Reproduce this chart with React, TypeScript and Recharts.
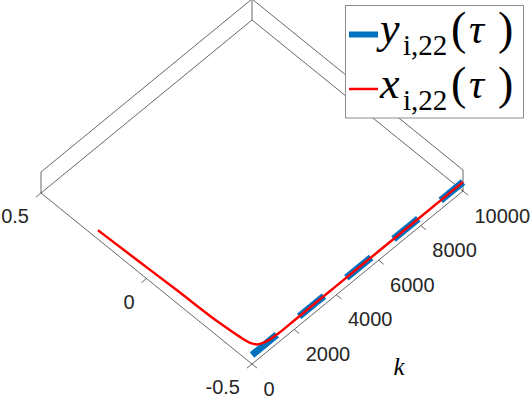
import { ComposedChart, Legend, Line, ReferenceDot, ReferenceLine, XAxis, YAxis } from "recharts";

// axis limits of the original 3-D box
const K_LIM = [0, 10000];
const V_LIM = [-0.5, 0.5];
const Z_LIM = [-1, 1];

const K_TICKS = [0, 2000, 4000, 6000, 8000, 10000];
const V_TICKS = [-0.5, 0, 0.5];
const V_TICK_LABELS = ["-0.5", "0", "0.5"];

// y_{i,22}(tau): reference, flat
const yK = [0, 2000, 4000, 6000, 8000, 10000];
const yVal = [-0.5, -0.5, -0.5, -0.5, -0.5, -0.5];

// x_{i,22}(tau): converges onto the reference
const xK = [0, 60, 115, 170, 205, 245, 310, 420, 570, 880, 1290, 2000, 4000, 6000, 8000, 10000];
const xVal = [0.23, 0.04, -0.133, -0.33, -0.376, -0.42, -0.46, -0.48, -0.489, -0.497, -0.5, -0.5, -0.5, -0.5, -0.5, -0.5];

const SERIES_Z = -0.15;
const SERIES_NAMES = ["y", "x"];
const LEGEND_SUB = "i,22";

const W = 532;
const H = 399;
const AXIS_COLOR = "#262626";

// view: screen position of the (kmin, vmin, zmin) corner and the three box edges
const ORIGIN = { x: 252, y: 364 };
const K_DIR = { x: 211, y: -173 };
const V_DIR = { x: -211, y: -171 };
const Z_DIR = { x: 0, y: -21 };

function project(k: number, v: number, z: number) {
  const a = (k - K_LIM[0]) / (K_LIM[1] - K_LIM[0]);
  const b = (v - V_LIM[0]) / (V_LIM[1] - V_LIM[0]);
  const c = (z - Z_LIM[0]) / (Z_LIM[1] - Z_LIM[0]);
  return {
    x: ORIGIN.x + a * K_DIR.x + b * V_DIR.x + c * Z_DIR.x,
    y: ORIGIN.y + a * K_DIR.y + b * V_DIR.y + c * Z_DIR.y,
  };
}

const toPoints = (ks: number[], vs: number[], z: number) =>
  ks.map((k, i) => {
    const p = project(k, vs[i], z);
    return { px: p.x, py: p.y };
  });

const yData = toPoints(yK, yVal, SERIES_Z);
const xData = toPoints(xK, xVal, SERIES_Z);

const [k0, k1] = K_LIM;
const [v0, v1] = V_LIM;
const [z0, z1] = Z_LIM;

// back planes of the box + the two front floor edges (the axes)
const EDGES = [
  [project(k0, v0, z0), project(k1, v0, z0)],
  [project(k0, v0, z0), project(k0, v1, z0)],
  [project(k0, v1, z0), project(k1, v1, z0)],
  [project(k1, v0, z0), project(k1, v1, z0)],
  [project(k0, v1, z1), project(k1, v1, z1)],
  [project(k1, v0, z1), project(k1, v1, z1)],
  [project(k0, v1, z0), project(k0, v1, z1)],
  [project(k1, v1, z0), project(k1, v1, z1)],
  [project(k1, v0, z0), project(k1, v0, z1)],
];

const TICK_LEN = 6.5;
const vLen = Math.hypot(V_DIR.x, V_DIR.y);
const kLen = Math.hypot(K_DIR.x, K_DIR.y);

const kTickMarks = K_TICKS.map((k) => {
  const p = project(k, v0, z0);
  return [p, { x: p.x - (V_DIR.x / vLen) * TICK_LEN, y: p.y - (V_DIR.y / vLen) * TICK_LEN }];
});
const vTickMarks = V_TICKS.map((v) => {
  const p = project(k0, v, z0);
  return [p, { x: p.x - (K_DIR.x / kLen) * TICK_LEN, y: p.y - (K_DIR.y / kLen) * TICK_LEN }];
});

const tickFont = { fontFamily: "'Liberation Sans', Arial, sans-serif", fontSize: 20, fill: AXIS_COLOR };
const mathFont = "'Liberation Serif', 'Times New Roman', serif";

function renderLegend(props: any) {
  const payload = [...(props.payload || [])].sort(
    (a: any, b: any) => SERIES_NAMES.indexOf(a.value) - SERIES_NAMES.indexOf(b.value)
  );
  return (
    <svg width={180} height={124} style={{ display: "block", overflow: "visible" }}>
      <rect x={0.5} y={5.5} width={178} height={112.5} fill="#fff" stroke="#8c8c8c" strokeWidth={1} />
      {payload.map((entry: any, i: number) => {
        const base = 43 + i * 54.5;
        const thick = entry.value === "y" ? 6 : 2.5;
        return (
          <g key={entry.value}>
            <line x1={4} x2={33} y1={base - 8.5} y2={base - 8.5} stroke={entry.color} strokeWidth={thick} />
            <text fontFamily={mathFont} fill="#000">
              <tspan x={35} y={base} fontSize={44} fontStyle="italic">{entry.value}</tspan>
              <tspan x={58} y={base + 12} fontSize={29}>{LEGEND_SUB}</tspan>
              <tspan x={106} y={base + 1} fontSize={46}>(</tspan>
              <tspan x={124} y={base} fontSize={42} fontStyle="italic">τ</tspan>
              <tspan x={153} y={base + 1} fontSize={46}>)</tspan>
            </text>
          </g>
        );
      })}
    </svg>
  );
}

export default function App() {
  const kLabelAnchor = project((k0 + k1) / 2, v0, z0);
  return (
    <div style={{ position: "absolute", left: 0, top: 0, background: "#fff" }}>
      <ComposedChart width={W} height={H} margin={{ top: 0, right: 0, bottom: 0, left: 0 }}>
        <XAxis type="number" dataKey="px" domain={[0, W]} allowDataOverflow hide />
        <YAxis type="number" domain={[0, H]} allowDataOverflow reversed hide />

        {EDGES.map((e, i) => (
          <ReferenceLine key={`e${i}`} segment={[{ x: e[0].x, y: e[0].y }, { x: e[1].x, y: e[1].y }]} stroke={AXIS_COLOR} strokeWidth={0.7} ifOverflow="visible" />
        ))}
        {[...kTickMarks, ...vTickMarks].map((t, i) => (
          <ReferenceLine key={`t${i}`} segment={[{ x: t[0].x, y: t[0].y }, { x: t[1].x, y: t[1].y }]} stroke={AXIS_COLOR} strokeWidth={0.7} ifOverflow="visible" />
        ))}

        {K_TICKS.map((k) => {
          const p = project(k, v0, z0);
          return (
            <ReferenceDot key={`kl${k}`} x={p.x} y={p.y} r={0} ifOverflow="visible"
              shape={(s: any) => (
                <text x={s.cx + 11.5} y={s.cy + 31.5} textAnchor="start" {...tickFont}>{String(k)}</text>
              )}
            />
          );
        })}
        {V_TICKS.map((v, i) => {
          const p = project(k0, v, z0);
          return (
            <ReferenceDot key={`vl${i}`} x={p.x} y={p.y} r={0} ifOverflow="visible"
              shape={(s: any) => (
                <text x={s.cx - 12} y={s.cy + 30} textAnchor="end" {...tickFont}>{V_TICK_LABELS[i]}</text>
              )}
            />
          );
        })}
        <ReferenceDot x={kLabelAnchor.x} y={kLabelAnchor.y} r={0} ifOverflow="visible"
          shape={(s: any) => (
            <text x={s.cx + 41.5} y={s.cy + 97.5} textAnchor="middle" fontFamily={mathFont} fontStyle="italic" fontSize={25} fill="#000">k</text>
          )}
        />

        <Line data={yData} dataKey="py" name="y" type="linear" stroke="#0072BD" strokeWidth={7}
          strokeDasharray="32 29" strokeLinecap="butt" dot={false} activeDot={false} isAnimationActive={false} />
        <Line data={xData} dataKey="py" name="x" type="monotone" stroke="#FF0000" strokeWidth={2.5}
          dot={false} activeDot={false} isAnimationActive={false} />

        <Legend layout="vertical" align="center" verticalAlign="middle" content={renderLegend}
          wrapperStyle={{ left: 345, top: 0, width: 180, height: 124 }} />
      </ComposedChart>
    </div>
  );
}
